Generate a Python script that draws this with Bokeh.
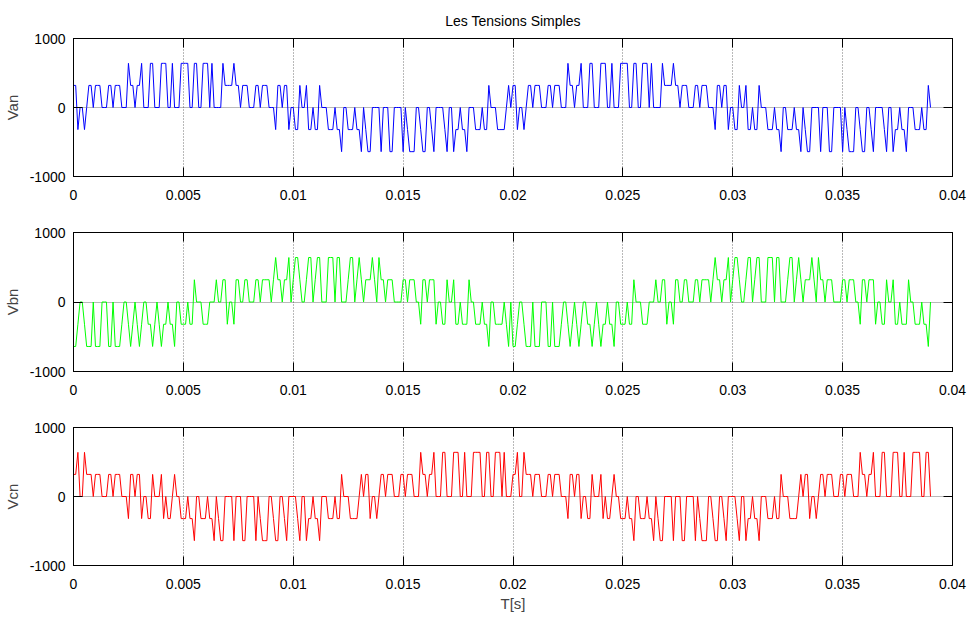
from bokeh.plotting import figure
from bokeh.layouts import column
from bokeh.models import Range1d, LinearAxis, FixedTicker, PrintfTickFormatter, Grid
from bokeh.embed import file_html
from bokeh.resources import INLINE

FONT = "Liberation Sans"

# sampling step of the simulation [s] and voltage step (Vdc/3) [V]
dt = 0.0001
v_step = 320

# phase voltage levels (in units of v_step), one value per sample
van_levels = [
    1, 1, -1, 0, 0, -1, 0, 1, 1, 0,
    1, 1, 1, 0, 0, 0, 1, 1, 0, 1,
    1, 1, 0, 0, 0, 2, 1, 1, 0, 1,
    1, 2, 0, 0, 0, 2, 2, 0, 0, 0,
    2, 2, 2, 0, 0, 2, 0, 0, 0, 2,
    2, 2, 2, 0, 0, 2, 2, 0, 0, 2,
    2, 2, 0, 2, 0, 0, 0, 0, 2, 1,
    1, 1, 1, 2, 1, 1, 0, 1, 1, 1,
    0, 0, 0, 1, 1, 0, 1, 1, 1, 0,
    0, 0, -1, 1, 1, 0, 1, 1, -1, 0,
    0, -1, -1, 1, 0, 0, 1, -1, -1, 0,
    -1, -1, 1, 0, 0, 0, -1, -1, -1, 0,
    -1, -1, -2, 0, 0, -1, -1, -1, 0, -1,
    -1, -2, 0, -1, -2, -2, 0, 0, 0, 0,
    -2, 0, 0, 0, -2, -2, 0, 0, 0, 0,
    -2, 0, -1, -2, -2, -2, 0, 0, -1, -2,
    -2, 0, 0, -1, -2, 0, 0, 0, 0, -1,
    -2, 0, 0, -2, -1, -1, 0, -1, -1, -2,
    0, 0, 0, -1, -1, -1, 0, -1, -1, 1,
    0, 0, 0, -1, -1, -1, -1, 0, 1, 0,
    1, 1, -1, 0, 0, -1, 0, 1, 1, 0,
    1, 1, 1, 0, 0, 0, 1, 1, 0, 1,
    1, 1, 0, 0, 0, 2, 1, 1, 0, 1,
    1, 2, 0, 0, 0, 2, 2, 0, 0, 0,
    2, 2, 2, 0, 0, 2, 0, 0, 0, 2,
    2, 2, 2, 0, 0, 2, 2, 0, 0, 2,
    2, 2, 0, 2, 0, 0, 0, 0, 2, 1,
    1, 1, 1, 2, 1, 1, 0, 1, 1, 1,
    0, 0, 0, 1, 1, 0, 1, 1, 1, 0,
    0, 0, -1, 1, 1, 0, 1, 1, -1, 0,
    0, -1, -1, 1, 0, 0, 1, -1, -1, 0,
    -1, -1, 1, 0, 0, 0, -1, -1, -1, 0,
    -1, -1, -2, 0, 0, -1, -1, -1, 0, -1,
    -1, -2, 0, -1, -2, -2, 0, 0, 0, 0,
    -2, 0, 0, 0, -2, -2, 0, 0, 0, 0,
    -2, 0, -1, -2, -2, -2, 0, 0, -1, -2,
    -2, 0, 0, -1, -2, 0, 0, 0, 0, -1,
    -2, 0, 0, -2, -1, -1, 0, -1, -1, -2,
    0, 0, 0, -1, -1, -1, 0, -1, -1, 1,
    0,
]

vbn_levels = [
    -2, -2, -1, 0, 0, -1, -2, -2, -2, 0,
    -2, -2, -2, 0, 0, 0, -2, -2, 0, -2,
    -2, -2, -1, 0, 0, -1, -2, -1, 0, -1,
    -2, -1, 0, 0, -1, -1, -2, -1, 0, -1,
    -2, -1, -1, 0, -1, -1, -2, 0, 0, -1,
    -1, -1, 0, -1, -1, 1, 0, 0, 0, -1,
    -1, -1, 0, 0, 0, 1, 0, 0, 1, 1,
    -1, 0, 0, -1, 1, 1, 0, 0, 1, 1,
    0, 0, 0, 1, 1, 0, 1, 1, 1, 1,
    0, 1, 2, 1, 1, 0, 1, 1, 2, 0,
    1, 2, 2, 1, 0, 0, 1, 2, 2, 0,
    1, 2, 2, 0, 0, 0, 2, 2, 2, 0,
    2, 2, 0, 0, 0, 1, 2, 2, 0, 1,
    2, 1, 0, 1, 1, 1, 2, 1, 0, 2,
    1, 1, 0, 1, 1, 1, 0, 0, 0, 0,
    1, 1, 0, 1, 1, 1, 0, 0, -1, 1,
    1, 0, 1, 1, 1, -1, 0, 0, -1, -1,
    1, 0, 0, 1, -1, -1, 0, -1, -1, -1,
    1, 0, 0, -1, -1, -1, 0, -1, -1, -2,
    0, 0, -1, -1, -1, -1, 0, -1, -2, 0,
    -2, -2, -1, 0, 0, -1, -2, -2, -2, 0,
    -2, -2, -2, 0, 0, 0, -2, -2, 0, -2,
    -2, -2, -1, 0, 0, -1, -2, -1, 0, -1,
    -2, -1, 0, 0, -1, -1, -2, -1, 0, -1,
    -2, -1, -1, 0, -1, -1, -2, 0, 0, -1,
    -1, -1, 0, -1, -1, 1, 0, 0, 0, -1,
    -1, -1, 0, 0, 0, 1, 0, 0, 1, 1,
    -1, 0, 0, -1, 1, 1, 0, 0, 1, 1,
    0, 0, 0, 1, 1, 0, 1, 1, 1, 1,
    0, 1, 2, 1, 1, 0, 1, 1, 2, 0,
    1, 2, 2, 1, 0, 0, 1, 2, 2, 0,
    1, 2, 2, 0, 0, 0, 2, 2, 2, 0,
    2, 2, 0, 0, 0, 1, 2, 2, 0, 1,
    2, 1, 0, 1, 1, 1, 2, 1, 0, 2,
    1, 1, 0, 1, 1, 1, 0, 0, 0, 0,
    1, 1, 0, 1, 1, 1, 0, 0, -1, 1,
    1, 0, 1, 1, 1, -1, 0, 0, -1, -1,
    1, 0, 0, 1, -1, -1, 0, -1, -1, -1,
    1, 0, 0, -1, -1, -1, 0, -1, -1, -2,
    0,
]

vcn_levels = [
    1, 1, 2, 0, 0, 2, 1, 1, 1, 0,
    1, 1, 1, 0, 0, 0, 1, 1, 0, 1,
    1, 1, 0, 0, 0, -1, 1, 1, 0, 1,
    1, -1, 0, 0, -1, -1, 1, 0, 0, 0,
    1, -1, 0, -1, -1, 0, 1, 0, 0, -1,
    -1, -1, 0, -1, -1, -2, 0, 0, -1, -1,
    -1, 0, -1, -1, -2, 0, -1, -2, -2, 0,
    0, 0, 0, -2, 0, 0, 0, -2, -2, 0,
    0, 0, 0, -2, 0, -1, -2, -2, -2, 0,
    0, -1, -2, -2, 0, 0, -1, -2, 0, 0,
    0, 0, -1, -2, 0, 0, -2, -1, -1, 0,
    -1, -1, -2, 0, 0, 0, -1, -1, -1, 0,
    -1, -1, 1, 0, 0, 0, -1, -1, -1, -1,
    0, 1, 0, 1, 1, -1, 0, 0, -1, 0,
    1, 1, 0, 1, 1, 1, 0, 0, 0, 1,
    1, 0, 1, 1, 1, 0, 0, 0, 2, 1,
    1, 0, 1, 1, 2, 0, 0, 0, 2, 2,
    0, 0, 0, 2, 2, 2, 0, 0, 2, 0,
    0, 0, 2, 2, 2, 2, 0, 0, 2, 2,
    0, 0, 2, 2, 2, 0, 2, 0, 0, 0,
    1, 1, 2, 0, 0, 2, 1, 1, 1, 0,
    1, 1, 1, 0, 0, 0, 1, 1, 0, 1,
    1, 1, 0, 0, 0, -1, 1, 1, 0, 1,
    1, -1, 0, 0, -1, -1, 1, 0, 0, 0,
    1, -1, 0, -1, -1, 0, 1, 0, 0, -1,
    -1, -1, 0, -1, -1, -2, 0, 0, -1, -1,
    -1, 0, -1, -1, -2, 0, -1, -2, -2, 0,
    0, 0, 0, -2, 0, 0, 0, -2, -2, 0,
    0, 0, 0, -2, 0, -1, -2, -2, -2, 0,
    0, -1, -2, -2, 0, 0, -1, -2, 0, 0,
    0, 0, -1, -2, 0, 0, -2, -1, -1, 0,
    -1, -1, -2, 0, 0, 0, -1, -1, -1, 0,
    -1, -1, 1, 0, 0, 0, -1, -1, -1, -1,
    0, 1, 0, 1, 1, -1, 0, 0, -1, 0,
    1, 1, 0, 1, 1, 1, 0, 0, 0, 1,
    1, 0, 1, 1, 1, 0, 0, 0, 2, 1,
    1, 0, 1, 1, 2, 0, 0, 0, 2, 2,
    0, 0, 0, 2, 2, 2, 0, 0, 2, 0,
    0, 0, 2, 2, 2, 2, 0, 0, 2, 2,
    0,
]

time = [k * dt for k in range(len(van_levels))]
van = [v * v_step for v in van_levels]
vbn = [v * v_step for v in vbn_levels]
vcn = [v * v_step for v in vcn_levels]

x_ticks = [0, 0.005, 0.01, 0.015, 0.02, 0.025, 0.03, 0.035, 0.04]
y_ticks = [-1000, 0, 1000]


def panel(values, color, ylabel, height, top, bottom, title=None, xlabel=None):
    p = figure(width=973, height=height, output_backend="svg", toolbar_location=None,
               x_range=Range1d(0, 0.04), y_range=Range1d(-1000, 1000),
               x_axis_type=None, y_axis_type=None,
               min_border_left=73, min_border_right=21,
               min_border_top=top, min_border_bottom=bottom)
    p.background_fill_color = "white"
    p.border_fill_color = "white"
    p.outline_line_color = "black"
    p.outline_line_width = 1

    xb = LinearAxis(ticker=FixedTicker(ticks=x_ticks),
                    formatter=PrintfTickFormatter(format="%g"))
    xt = LinearAxis(ticker=FixedTicker(ticks=x_ticks))
    yl = LinearAxis(ticker=FixedTicker(ticks=y_ticks),
                    formatter=PrintfTickFormatter(format="%d"))
    yr = LinearAxis(ticker=FixedTicker(ticks=y_ticks))
    for ax, lab in ((xb, True), (xt, False), (yl, True), (yr, False)):
        ax.axis_line_color = "black"
        ax.major_tick_in = 9
        ax.major_tick_out = 0
        ax.minor_tick_in = 0
        ax.minor_tick_out = 0
        ax.major_tick_line_color = "black"
        ax.major_label_text_font = FONT
        if lab:
            ax.major_label_text_font_size = "14px"
            ax.major_label_text_color = "black"
        else:
            ax.major_label_text_font_size = "0px"
            ax.major_label_text_color = None
            ax.major_label_standoff = 0
    xb.major_label_standoff = 13
    yl.major_label_standoff = 8
    yl.axis_label = ylabel
    yl.axis_label_text_font = FONT
    yl.axis_label_text_font_size = "15px"
    yl.axis_label_text_font_style = "normal"
    yl.axis_label_standoff = 6
    if xlabel:
        xb.axis_label = xlabel
        xb.axis_label_text_font = FONT
        xb.axis_label_text_font_size = "15px"
        xb.axis_label_text_font_style = "normal"
        xb.axis_label_standoff = 3
    p.add_layout(xb, "below")
    p.add_layout(xt, "above")
    p.add_layout(yl, "left")
    p.add_layout(yr, "right")

    gx = Grid(dimension=0, ticker=FixedTicker(ticks=x_ticks), grid_line_color="black",
              grid_line_alpha=0.55, grid_line_dash="1 2", grid_line_width=1)
    gy = Grid(dimension=1, ticker=FixedTicker(ticks=y_ticks), grid_line_color="black",
              grid_line_alpha=0.55, grid_line_dash="1 1", grid_line_width=1)
    p.add_layout(gx)
    p.add_layout(gy)

    p.line(time, values, line_color=color, line_width=1)

    if title:
        p.title.text = title
        p.title.align = "center"
        p.title.text_font = FONT
        p.title.text_font_size = "14px"
        p.title.text_font_style = "normal"
        p.title.text_color = "black"
        p.title.standoff = 19
    return p


p1 = panel(van, "#0000FF", "Van", 213, 38, 37, title="Les Tensions Simples")
p2 = panel(vbn, "#00FF00", "Vbn", 195, 19, 37)
p3 = panel(vcn, "#FF0000", "Vcn", 215, 19, 58, xlabel="T[s]")

layout = column(p1, p2, p3, spacing=0)
open("out.html", "w").write(file_html(layout, INLINE))
